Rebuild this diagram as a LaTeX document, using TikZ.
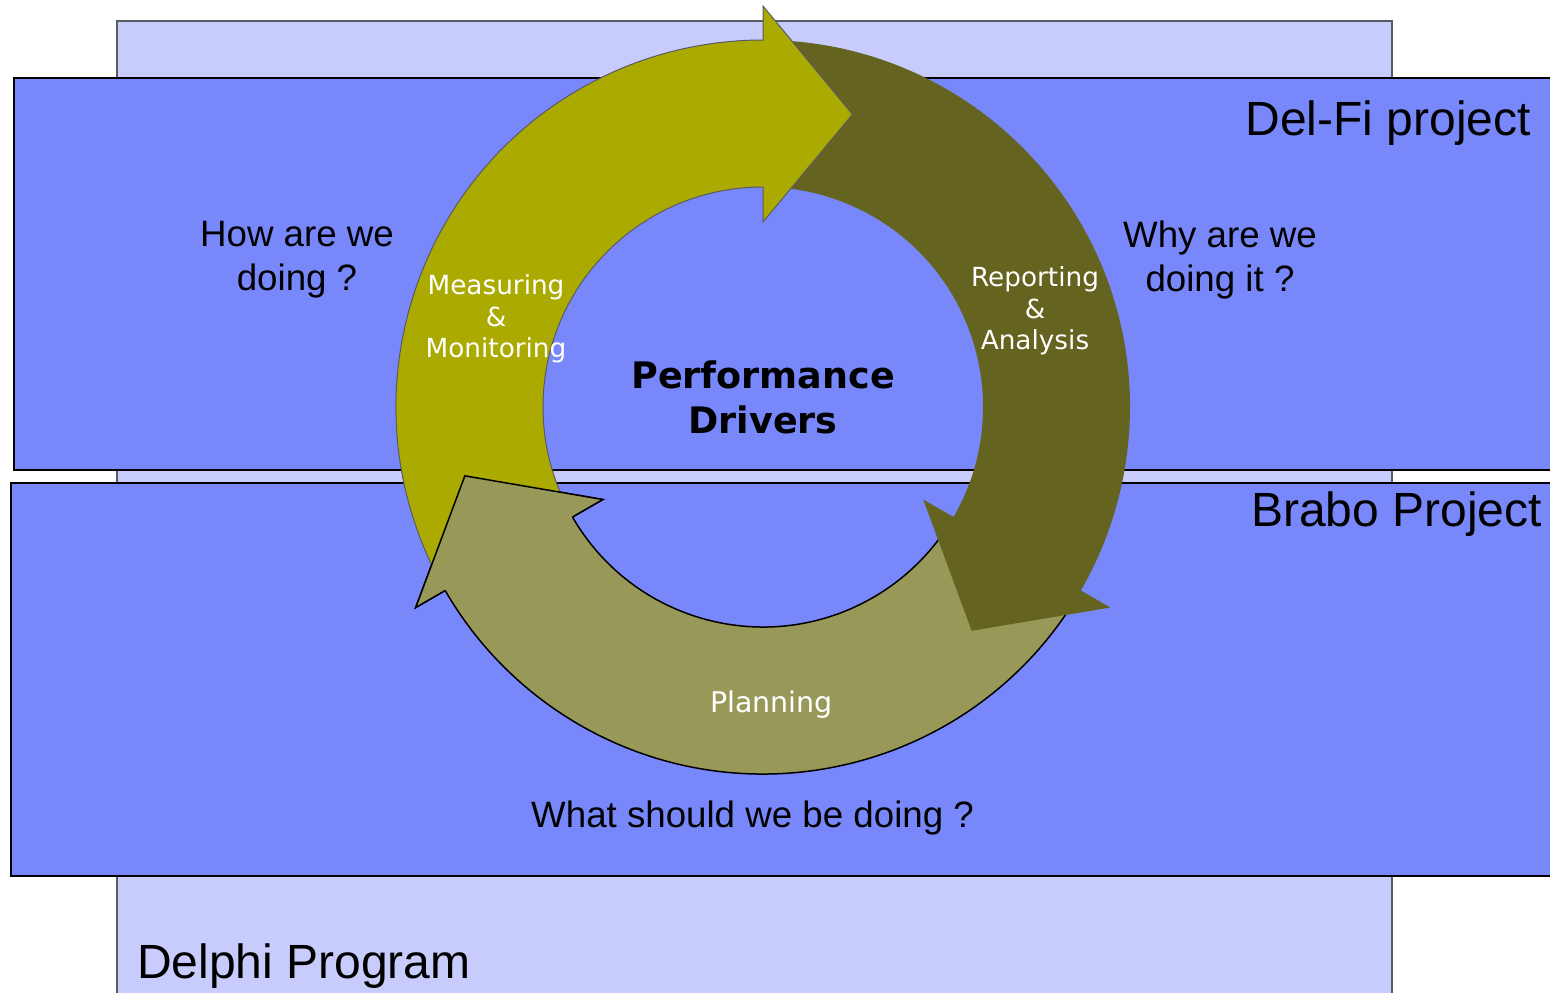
\documentclass[tikz,border=0pt]{standalone}
\usepackage{fontspec}
\setmainfont{Liberation Sans}
\newfontfamily\verdfont{DejaVu Sans}
\usepackage{tikz}
\definecolor{progfill}{RGB}{200,204,252}
\definecolor{projfill}{RGB}{120,136,250}
\definecolor{measfill}{RGB}{170,170,0}
\definecolor{repfill}{RGB}{100,100,32}
\definecolor{planfill}{RGB}{152,152,88}
\definecolor{edgegray}{RGB}{90,90,100}

\begin{document}
\begin{tikzpicture}[x=1pt,y=-1pt,
    bigtext/.style={inner sep=0pt,font=\fontsize{48}{56}\selectfont},
    asktext/.style={inner sep=0pt,align=center,font=\fontsize{36.7}{44}\selectfont},
    steptext/.style={inner sep=0pt,align=center,text=white,font=\verdfont\fontsize{26.3}{31.5}\selectfont},
    ring/.style={shift={(763,407)}}]
                \useasboundingbox (0,0) rectangle (1550,993);
                \clip (0,0) rectangle (1550,993);
                % program and projects
                \filldraw[fill=progfill, draw=edgegray, line width=1.5pt] (117,21) rectangle (1392,1010);
                \filldraw[fill=projfill, draw=black, line width=2.5pt] (14,78) rectangle (1575,470);
                \filldraw[fill=projfill, draw=black, line width=2.5pt] (11,483) rectangle (1575,876);
                \node[bigtext, anchor=base east] (delfi) at (1531,135) {Del-Fi project};
                \node[bigtext, anchor=base east] (brabo) at (1542,526) {Brabo Project};
                \node[bigtext, anchor=base west] (delphi) at (137,978) {Delphi Program};
                % the cycle
                \fill[planfill, draw=black, line width=1.5pt, ring] (33:367) arc[start angle=33, end angle=150, radius=367] -- (150:401) -- (167:306) -- (150:185) -- (150:220) arc[start angle=150, end angle=33, radius=220] -- cycle;
                \fill[repfill, ring] (-87:367) arc[start angle=-87, end angle=30, radius=367] -- (30:401) -- (47:306) -- (30:185) -- (30:220) arc[start angle=30, end angle=-87, radius=220] -- cycle;
                \fill[measfill, draw=edgegray, line width=1pt, ring] (-207:367) arc[start angle=-207, end angle=-90, radius=367] -- (-90:401) -- (-73:306) -- (-90:185) -- (-90:220) arc[start angle=-90, end angle=-207, radius=220] -- cycle;
                \fill[planfill, ring] (150:401) -- (167:306) -- (150:185) -- cycle;
                \draw[black, line width=1.5pt, line join=miter, ring] (150:367) -- (150:401) -- (167:306) -- (150:185) -- (150:220);
                % labels
                \node[steptext] (measuring) at (496,319) {Measuring\\\&\\Monitoring};
                \node[steptext] (reporting) at (1035,311) {Reporting\\\&\\Analysis};
                \node[steptext, anchor=base, font=\verdfont\fontsize{28.5}{34}\selectfont] (planning) at (771.5,712) {Planning};
                \node[inner sep=0pt, align=center, font=\verdfont\bfseries\fontsize{36.5}{45}\selectfont] (drivers) at (763,397) {Performance\\Drivers};
                \node[asktext] (howdoing) at (297,260) {How are we\\doing ?};
                \node[asktext] (whydoing) at (1220,260) {Why are we\\doing it ?};
                \node[asktext, anchor=base west] (whatdoing) at (531,827) {What should we be doing ?};
            \end{tikzpicture}
\end{document}
